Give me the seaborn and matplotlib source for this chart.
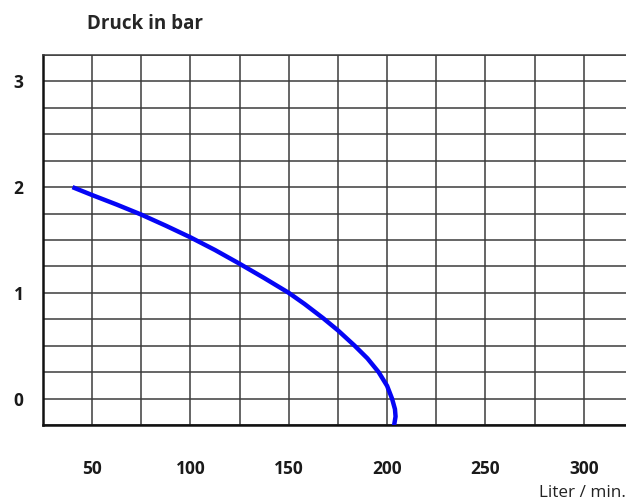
import matplotlib
matplotlib.use("Agg")
import matplotlib.pyplot as plt
import numpy as np
import seaborn as sns

# Pump curve: flow in l/min, pressure in bar
flow = [40, 50, 62.5, 75, 87.5, 100, 112.5, 125, 137.5, 150, 158, 167.5, 175, 183.5, 190, 195.7, 200, 202.5, 204, 204.3, 203.5]
pressure = [2.0, 1.925, 1.835, 1.74, 1.635, 1.525, 1.405, 1.275, 1.14, 1.0, 0.895, 0.76, 0.645, 0.5, 0.38, 0.25, 0.12, 0.0, -0.1, -0.17, -0.26]

x_ticks = np.arange(25, 325, 25)
x_labels = ["" if t % 50 else str(int(t)) for t in x_ticks]
y_ticks = np.arange(-0.25, 3.5, 0.25)
y_labels = [str(int(t)) if float(t).is_integer() else "" for t in y_ticks]

sns.set_style("white")
plt.rcParams['font.family'] = ['Open Sans', 'DejaVu Sans']

fig = plt.figure(figsize=(6.26, 5.01), dpi=100)
ax = fig.add_axes([43 / 626, 76 / 501, 1 - 43 / 626, 370 / 501])

sns.lineplot(x=flow, y=pressure, sort=False, estimator=None, color="#0505f5",
             linewidth=3.2, ax=ax, zorder=5, solid_capstyle="butt")

ax.set_xlim(25, 321.5)
ax.set_ylim(-0.25, 3.25)
ax.set_xticks(x_ticks)
ax.set_xticklabels(x_labels, fontsize=12.5, fontweight="bold")
ax.set_yticks(y_ticks)
ax.set_yticklabels(y_labels, fontsize=12.5, fontweight="bold")
ax.tick_params(axis="x", length=0, pad=25, colors="#1a1a1a")
ax.tick_params(axis="y", length=0, pad=14, colors="#1a1a1a")
ax.grid(True, color="#3c3c3c", linewidth=1.1)

ax.spines["right"].set_visible(False)
ax.spines["top"].set_color("#3c3c3c")
ax.spines["top"].set_linewidth(1.1)
for s in ["left", "bottom"]:
    ax.spines[s].set_color("#111111")
    ax.spines[s].set_linewidth(1.8)

fig.text(87 / 626, 1 - 24 / 501, "Druck in bar", fontsize=13.5, fontweight="bold", va="center", ha="left")
fig.text(1.0, 1 - 493 / 501, "Liter / min.", fontsize=12.3, va="center", ha="right", color="#222222")

fig.savefig("out.png", dpi=100)
